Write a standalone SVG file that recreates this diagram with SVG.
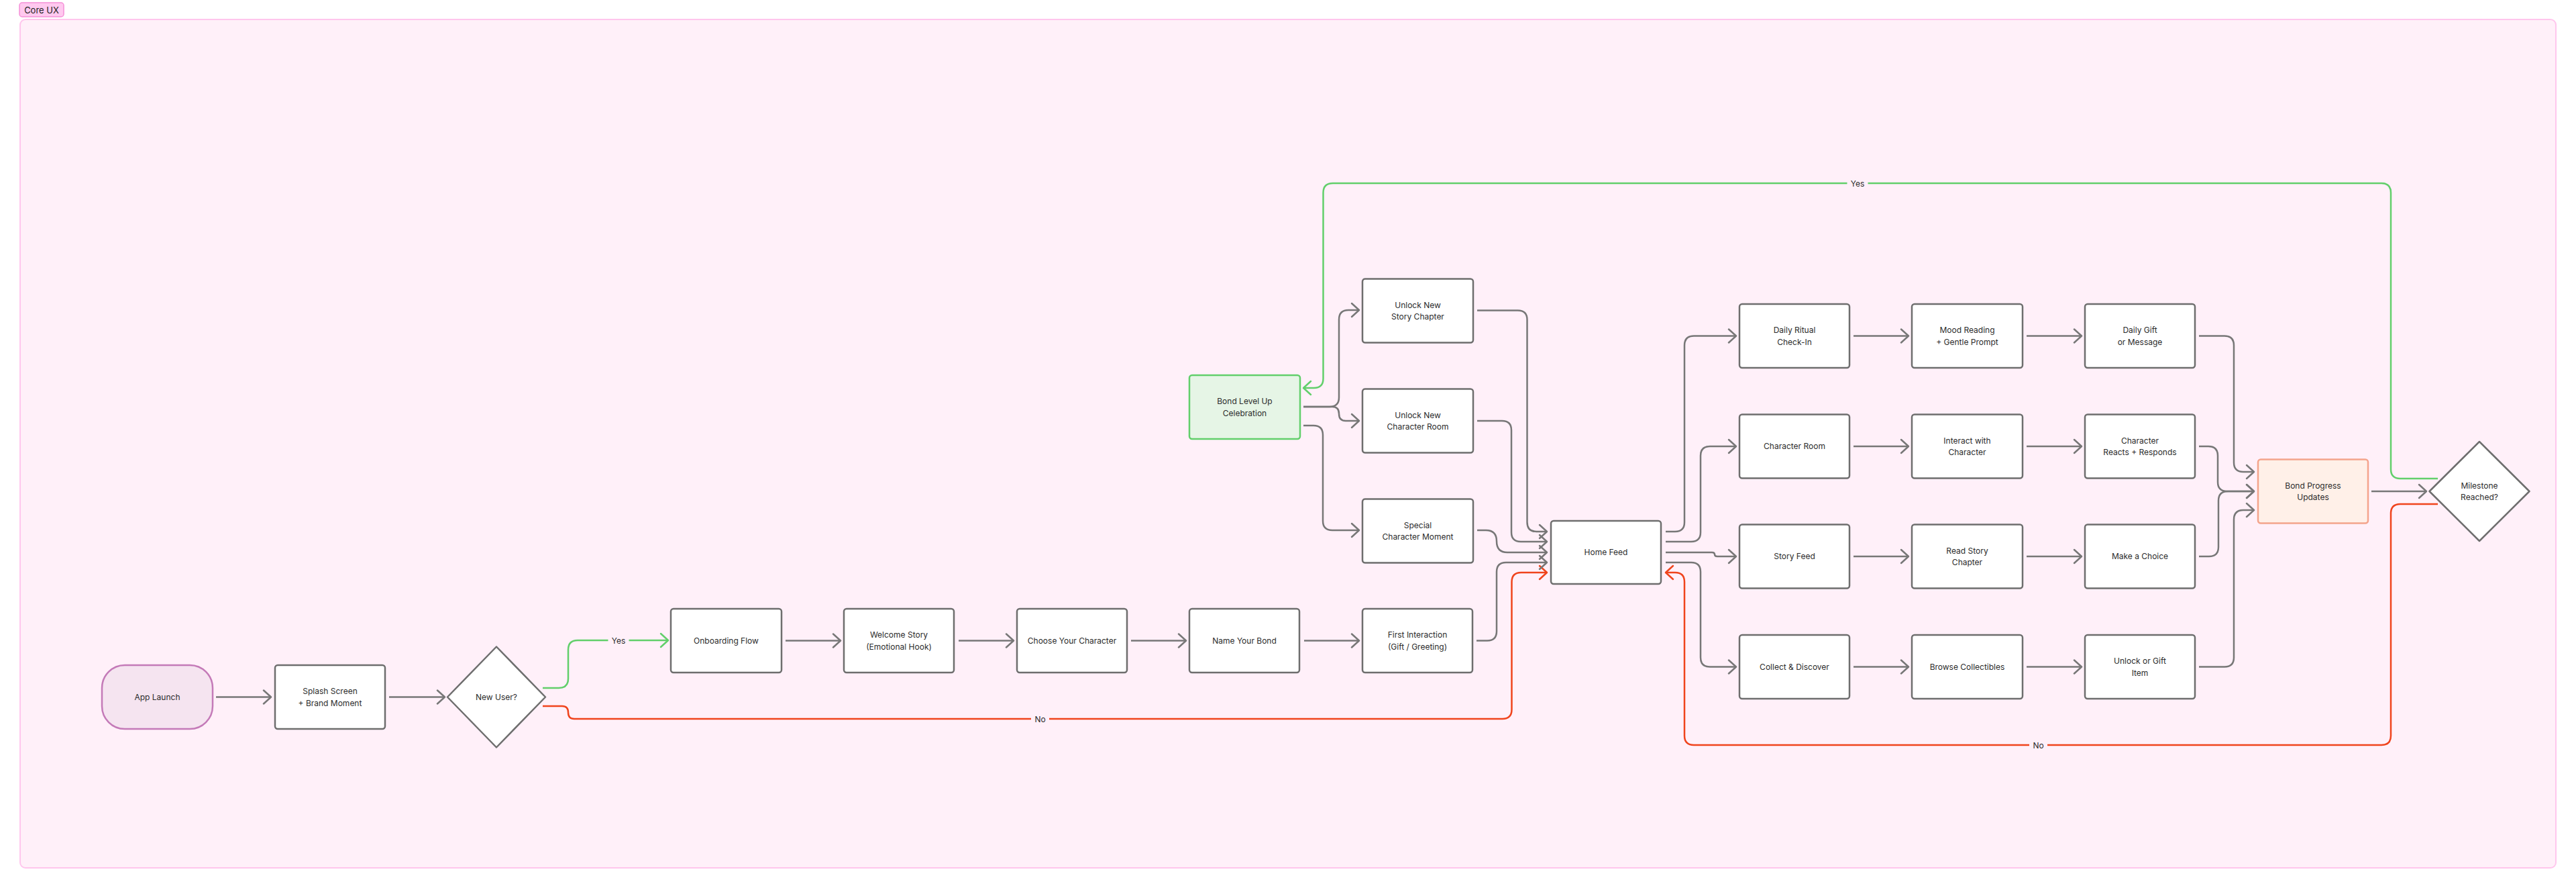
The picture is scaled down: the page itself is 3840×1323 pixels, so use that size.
<svg xmlns="http://www.w3.org/2000/svg" width="3840" height="1323" viewBox="0 0 3840 1323">
<style>
.t{font-family:Inter,"Noto Sans",sans-serif;font-size:12px;fill:#2b2b2b;text-anchor:middle}
.n{fill:#ffffff;stroke:#6e6e6e;stroke-width:2.5}
.c{fill:none;stroke:#777777;stroke-width:2.5;stroke-linejoin:round}
.g{stroke:#62cf6b}
.r{stroke:#f0441d}
.lbg{fill:#fff0f9}
</style>
<defs>
<marker id="ag" markerUnits="userSpaceOnUse" viewBox="-13 -12 16 24" refX="0" refY="0" markerWidth="16" markerHeight="24" orient="auto"><path d="M-11,-10 L0,0 L-11,10" fill="none" stroke="#777777" stroke-width="2.5" stroke-linecap="round" stroke-linejoin="round"/></marker>
<marker id="agr" markerUnits="userSpaceOnUse" viewBox="-13 -12 16 24" refX="0" refY="0" markerWidth="16" markerHeight="24" orient="auto"><path d="M-11,-10 L0,0 L-11,10" fill="none" stroke="#62cf6b" stroke-width="2.5" stroke-linecap="round" stroke-linejoin="round"/></marker>
<marker id="ar" markerUnits="userSpaceOnUse" viewBox="-13 -12 16 24" refX="0" refY="0" markerWidth="16" markerHeight="24" orient="auto"><path d="M-11,-10 L0,0 L-11,10" fill="none" stroke="#f0441d" stroke-width="2.5" stroke-linecap="round" stroke-linejoin="round"/></marker>
</defs>
<rect width="3840" height="1323" fill="#ffffff"/>
<g id="frame">
<rect x="30" y="29" width="3780" height="1264" rx="8" fill="#fff0f9" stroke="#ffc6ed" stroke-width="2"/>
<rect x="29" y="4" width="66" height="21" rx="4" fill="#ffc9ef" stroke="#f590d8" stroke-width="1.5"/>
<text x="62" y="19.5" style="font-family:Inter,'Noto Sans',sans-serif;font-size:13px;fill:#222;text-anchor:middle">Core UX</text>
</g>
<g id="connectors">
<path class="c" d="M322 1038.5 H404" marker-end="url(#ag)"/>
<path class="c" d="M580 1038.5 H663" marker-end="url(#ag)"/>
<path class="c g" d="M809 1025 H833 Q847 1025 847 1011 V968 Q847 954 861 954 H996" marker-end="url(#agr)"/>
<path class="c r" d="M809 1052 H838 Q847 1052 847 1061.5 Q847 1071 856 1071 H2239.5 Q2253.5 1071 2253.5 1057 V867 Q2253.5 853 2267.5 853 H2306" marker-end="url(#ar)"/>
<path class="c" d="M1171 954.5 H1253" marker-end="url(#ag)"/>
<path class="c" d="M1429 954.5 H1511" marker-end="url(#ag)"/>
<path class="c" d="M1686 954.5 H1768" marker-end="url(#ag)"/>
<path class="c" d="M1944 954.5 H2026" marker-end="url(#ag)"/>
<path class="c" d="M2201 954.5 H2217 Q2231 954.5 2231 940.5 V852 Q2231 838 2245 838 H2306" marker-end="url(#ag)"/>
<path class="c" d="M1943 606 H1982 Q1996 606 1996 592 V476 Q1996 462 2010 462 H2026" marker-end="url(#ag)"/>
<path class="c" d="M1943 606 H1986 Q1996 606 1996 616.5 Q1996 627 2006 627 H2026" marker-end="url(#ag)"/>
<path class="c" d="M1943 634 H1958 Q1972 634 1972 648 V776 Q1972 790 1986 790 H2026" marker-end="url(#ag)"/>
<path class="c" d="M2202 462.5 H2262.5 Q2276.5 462.5 2276.5 476.5 V778 Q2276.5 792 2290.5 792 H2306" marker-end="url(#ag)"/>
<path class="c" d="M2202 627 H2239 Q2253 627 2253 641 V793 Q2253 807 2267 807 H2306" marker-end="url(#ag)"/>
<path class="c" d="M2202 790 H2215 Q2231 790 2231 806.5 Q2231 823 2247 823 H2306" marker-end="url(#ag)"/>
<path class="c" d="M2483 792 H2497 Q2511 792 2511 778 V514.5 Q2511 500.5 2525 500.5 H2588" marker-end="url(#ag)"/>
<path class="c" d="M2483 807 H2521 Q2535 807 2535 793 V679 Q2535 665 2549 665 H2588" marker-end="url(#ag)"/>
<path class="c" d="M2483 823 H2552 Q2556 823 2556 826 Q2556 829 2560 829 H2588" marker-end="url(#ag)"/>
<path class="c" d="M2483 838 H2521 Q2535 838 2535 852 V979.5 Q2535 993.5 2549 993.5 H2588" marker-end="url(#ag)"/>
<path class="c" d="M2763 500.5 H2845" marker-end="url(#ag)"/>
<path class="c" d="M3021 500.5 H3103" marker-end="url(#ag)"/>
<path class="c" d="M2763 665 H2845" marker-end="url(#ag)"/>
<path class="c" d="M3021 665 H3103" marker-end="url(#ag)"/>
<path class="c" d="M2763 829 H2845" marker-end="url(#ag)"/>
<path class="c" d="M3021 829 H3103" marker-end="url(#ag)"/>
<path class="c" d="M2763 993.5 H2845" marker-end="url(#ag)"/>
<path class="c" d="M3021 993.5 H3103" marker-end="url(#ag)"/>
<path class="c" d="M3278 500.5 H3316 Q3330 500.5 3330 514.5 V689 Q3330 703 3344 703 H3360" marker-end="url(#ag)"/>
<path class="c" d="M3278 665 H3292 Q3306 665 3306 679 V718 Q3306 732 3320 732 H3360" marker-end="url(#ag)"/>
<path class="c" d="M3278 829 H3293 Q3307 829 3307 815 V746 Q3307 732 3321 732 H3360" marker-end="url(#ag)"/>
<path class="c" d="M3278 993.5 H3316 Q3330 993.5 3330 979.5 V774 Q3330 760 3344 760 H3360" marker-end="url(#ag)"/>
<path class="c" d="M3535 732 H3617" marker-end="url(#ag)"/>
<path class="c g" d="M3634 713 H3578 Q3564 713 3564 699 V287 Q3564 273 3550 273 H1987 Q1972.5 273 1972.5 287 V564 Q1972.5 578 1958.5 578 H1943" marker-end="url(#agr)"/>
<path class="c r" d="M3634 751 H3578 Q3564 751 3564 765 V1096 Q3564 1110 3550 1110 H2525 Q2511 1110 2511 1096 V867 Q2511 853 2497 853 H2483" marker-end="url(#ar)"/>
<rect class="lbg" x="906.5" y="946" width="31" height="16"/>
<text class="t" x="922" y="958.5">Yes</text>
<rect class="lbg" x="1537" y="1063" width="27" height="16"/>
<text class="t" x="1550.5" y="1075.5">No</text>
<rect class="lbg" x="2753.5" y="265" width="31" height="16"/>
<text class="t" x="2769" y="277.5">Yes</text>
<rect class="lbg" x="3025" y="1102" width="27" height="16"/>
<text class="t" x="3038.5" y="1114.5">No</text>
</g>
<g id="app-launch"><rect x="152" y="991" width="165" height="95" rx="34" fill="#f5e4f0" stroke="#c47ab8" stroke-width="2.5"/><text class="t" x="234.5" y="1042.8">App Launch</text></g>
<g id="splash"><rect class="n" x="410" y="991" width="164" height="95" rx="4"/><text class="t" x="492" y="1034">Splash Screen</text><text class="t" x="492" y="1051.6">+ Brand Moment</text></g>
<g id="new-user"><polygon class="n" stroke-linejoin="round" points="740,963.5 813,1038.5 740,1113.5 667,1038.5"/><text class="t" x="740" y="1042.8">New User?</text></g>
<g id="onboarding"><rect class="n" x="1000" y="907" width="165" height="95" rx="4"/><text class="t" x="1082.5" y="958.8">Onboarding Flow</text></g>
<g id="welcome"><rect class="n" x="1258" y="907" width="164" height="95" rx="4"/><text class="t" x="1340" y="950">Welcome Story</text><text class="t" x="1340" y="967.6">(Emotional Hook)</text></g>
<g id="choose"><rect class="n" x="1516" y="907" width="164" height="95" rx="4"/><text class="t" x="1598" y="958.8">Choose Your Character</text></g>
<g id="name-bond"><rect class="n" x="1773" y="907" width="164" height="95" rx="4"/><text class="t" x="1855" y="958.8">Name Your Bond</text></g>
<g id="first-interaction"><rect class="n" x="2031" y="907" width="164" height="95" rx="4"/><text class="t" x="2113" y="950">First Interaction</text><text class="t" x="2113" y="967.6">(Gift / Greeting)</text></g>
<g id="bond-level-up"><rect x="1773" y="559" width="165" height="95" rx="4" fill="#e6f5e6" stroke="#62cf6b" stroke-width="2.5"/><text class="t" x="1855.5" y="602">Bond Level Up</text><text class="t" x="1855.5" y="619.6">Celebration</text></g>
<g id="unlock-story"><rect class="n" x="2031" y="415.5" width="165" height="95" rx="4"/><text class="t" x="2113.5" y="458.5">Unlock New</text><text class="t" x="2113.5" y="476.1">Story Chapter</text></g>
<g id="unlock-room"><rect class="n" x="2031" y="579.5" width="165" height="95" rx="4"/><text class="t" x="2113.5" y="622.5">Unlock New</text><text class="t" x="2113.5" y="640.1">Character Room</text></g>
<g id="special-moment"><rect class="n" x="2031" y="743.5" width="165" height="95" rx="4"/><text class="t" x="2113.5" y="786.5">Special</text><text class="t" x="2113.5" y="804.1">Character Moment</text></g>
<g id="home-feed"><rect class="n" x="2312" y="776" width="164" height="94" rx="4"/><text class="t" x="2394" y="827.3">Home Feed</text></g>
<g id="daily-ritual"><rect class="n" x="2593" y="453" width="164" height="95" rx="4"/><text class="t" x="2675" y="496">Daily Ritual</text><text class="t" x="2675" y="513.6">Check-In</text></g>
<g id="mood-reading"><rect class="n" x="2850" y="453" width="165" height="95" rx="4"/><text class="t" x="2932.5" y="496">Mood Reading</text><text class="t" x="2932.5" y="513.6">+ Gentle Prompt</text></g>
<g id="daily-gift"><rect class="n" x="3108" y="453" width="164" height="95" rx="4"/><text class="t" x="3190" y="496">Daily Gift</text><text class="t" x="3190" y="513.6">or Message</text></g>
<g id="character-room"><rect class="n" x="2593" y="617.5" width="164" height="95" rx="4"/><text class="t" x="2675" y="669.3">Character Room</text></g>
<g id="interact"><rect class="n" x="2850" y="617.5" width="165" height="95" rx="4"/><text class="t" x="2932.5" y="660.5">Interact with</text><text class="t" x="2932.5" y="678.1">Character</text></g>
<g id="reacts"><rect class="n" x="3108" y="617.5" width="164" height="95" rx="4"/><text class="t" x="3190" y="660.5">Character</text><text class="t" x="3190" y="678.1">Reacts + Responds</text></g>
<g id="story-feed"><rect class="n" x="2593" y="781.5" width="164" height="95" rx="4"/><text class="t" x="2675" y="833.3">Story Feed</text></g>
<g id="read-story"><rect class="n" x="2850" y="781.5" width="165" height="95" rx="4"/><text class="t" x="2932.5" y="824.5">Read Story</text><text class="t" x="2932.5" y="842.1">Chapter</text></g>
<g id="make-choice"><rect class="n" x="3108" y="781.5" width="164" height="95" rx="4"/><text class="t" x="3190" y="833.3">Make a Choice</text></g>
<g id="collect"><rect class="n" x="2593" y="946" width="164" height="95" rx="4"/><text class="t" x="2675" y="997.8">Collect &amp; Discover</text></g>
<g id="browse"><rect class="n" x="2850" y="946" width="165" height="95" rx="4"/><text class="t" x="2932.5" y="997.8">Browse Collectibles</text></g>
<g id="unlock-gift"><rect class="n" x="3108" y="946" width="164" height="95" rx="4"/><text class="t" x="3190" y="989">Unlock or Gift</text><text class="t" x="3190" y="1006.6">Item</text></g>
<g id="bond-progress"><rect x="3366" y="684.5" width="164" height="95" rx="4" fill="#fff0e8" stroke="#f4a48c" stroke-width="2.5"/><text class="t" x="3448" y="727.5">Bond Progress</text><text class="t" x="3448" y="745.1">Updates</text></g>
<g id="milestone"><polygon class="n" stroke-linejoin="round" points="3696,658 3770.5,732 3696,806 3621.5,732"/><text class="t" x="3696" y="727.5">Milestone</text><text class="t" x="3696" y="745.1">Reached?</text></g>
</svg>
